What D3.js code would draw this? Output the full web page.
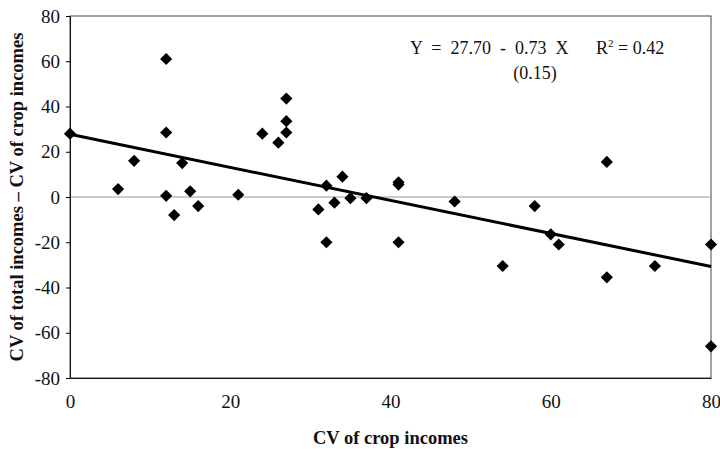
<!DOCTYPE html>
<html lang="en">
<head>
    <meta charset="UTF-8">
    <title>CV of crop incomes</title>
    <script src="https://d3js.org/d3.v7.min.js"></script>
</head>
<body>
    <div id="container"></div>
</body>

<style>
body {
    margin: 0;
    background: #fff;
}
svg text {
    font-family: "Liberation Serif", "Times New Roman", serif;
    fill: #111;
}
</style>

<script>
    // CV of crop incomes (x) and CV of total incomes - CV of crop incomes (y)
    const cropCV = [0, 6, 8, 12, 12, 12, 13, 14, 15, 16, 21, 24, 26, 27, 27, 27,
        31, 32, 32, 33, 34, 35, 37, 41, 41, 41, 48, 54, 58, 60, 61, 67, 67, 73, 80, 80]
    const diffCV = [28, 3.5, 16, 61, 28.5, 0.5, -8, 15, 2.5, -4, 1, 28, 24, 43.5, 33.5, 28.5,
        -5.5, 5, -20, -2.5, 9, -0.5, -0.5, 6.5, 5.5, -20, -2, -30.5, -4, -16.5, -21, 15.5, -35.5, -30.5, -21, -66]

    const xTicks = [0, 20, 40, 60, 80]
    const yTicks = [80, 60, 40, 20, 0, -20, -40, -60, -80]

    // fitted line Y = 27.70 - 0.73 X
    const intercept = 27.70
    const slope = -0.73

    const width = 720
    const height = 449
    const margin = {left: 70, right: 9, top: 16, bottom: 71}

    const svg = d3.select('#container')
        .append('svg')
        .attr('width', width)
        .attr('height', height)

    const x = d3.scaleLinear()
        .domain([0, 80])
        .range([margin.left, width - margin.right])

    const y = d3.scaleLinear()
        .domain([-80, 80])
        .range([height - margin.bottom, margin.top])

    // frame
    svg.append('rect')
        .attr('x', x(0))
        .attr('y', y(80))
        .attr('width', x(80) - x(0))
        .attr('height', y(-80) - y(80))
        .attr('fill', 'none')
        .attr('stroke', '#444')
        .attr('stroke-width', 1)

    // zero line
    svg.append('line')
        .attr('x1', x(0)).attr('x2', x(80))
        .attr('y1', y(0)).attr('y2', y(0))
        .attr('stroke', '#999')
        .attr('stroke-width', 1)

    // y axis
    const yAxis = svg.append('g')
        .attr('transform', 'translate(' + x(0) + ',0)')
        .call(d3.axisLeft(y).tickValues(yTicks).tickSize(4).tickPadding(6))
    yAxis.select('.domain').attr('stroke', '#111')
    yAxis.selectAll('text')
        .style('font-size', '19px')
        .text(d => d < 0 ? '-' + Math.abs(d) : d)

    // x axis
    const xAxis = svg.append('g')
        .attr('transform', 'translate(0,' + y(-80) + ')')
        .call(d3.axisBottom(x).tickValues(xTicks).tickSize(0).tickPadding(17))
    xAxis.select('.domain').attr('stroke', '#111')
    xAxis.selectAll('text').style('font-size', '19px')

    // regression line
    svg.append('line')
        .attr('x1', x(0)).attr('y1', y(intercept))
        .attr('x2', x(80)).attr('y2', y(intercept + slope * 80))
        .attr('stroke', '#000')
        .attr('stroke-width', 3)

    // points
    const diamond = d3.symbol(d3.symbolSquare, 74)
    svg.append('g')
        .selectAll('path')
        .data(cropCV)
        .enter()
        .append('path')
        .attr('d', diamond)
        .attr('transform', (d, i) => 'translate(' + x(d) + ',' + y(diffCV[i]) + ') rotate(45)')
        .attr('fill', '#000')

    // equation
    svg.append('text')
        .attr('x', 410).attr('y', 54)
        .style('font-size', '18px')
        .attr('xml:space', 'preserve')
        .text('Y  =  27.70  -  0.73  X')
    const r2 = svg.append('text')
        .attr('x', 596).attr('y', 54)
        .style('font-size', '18px')
    r2.append('tspan').text('R')
    r2.append('tspan').attr('dy', -7).style('font-size', '11px').text('2')
    r2.append('tspan').attr('dy', 7).text(' = 0.42')
    svg.append('text')
        .attr('x', 535).attr('y', 79)
        .attr('text-anchor', 'middle')
        .style('font-size', '18px')
        .text('(0.15)')

    // axis titles
    svg.append('text')
        .attr('x', (x(0) + x(80)) / 2)
        .attr('y', 444)
        .attr('text-anchor', 'middle')
        .style('font-size', '18.5px')
        .style('font-weight', 'bold')
        .text('CV of crop incomes')

    svg.append('text')
        .attr('transform', 'translate(23,' + y(0) + ') rotate(-90)')
        .attr('text-anchor', 'middle')
        .style('font-size', '18.5px')
        .style('font-weight', 'bold')
        .text('CV of total incomes – CV of crop incomes')
</script>
</html>
